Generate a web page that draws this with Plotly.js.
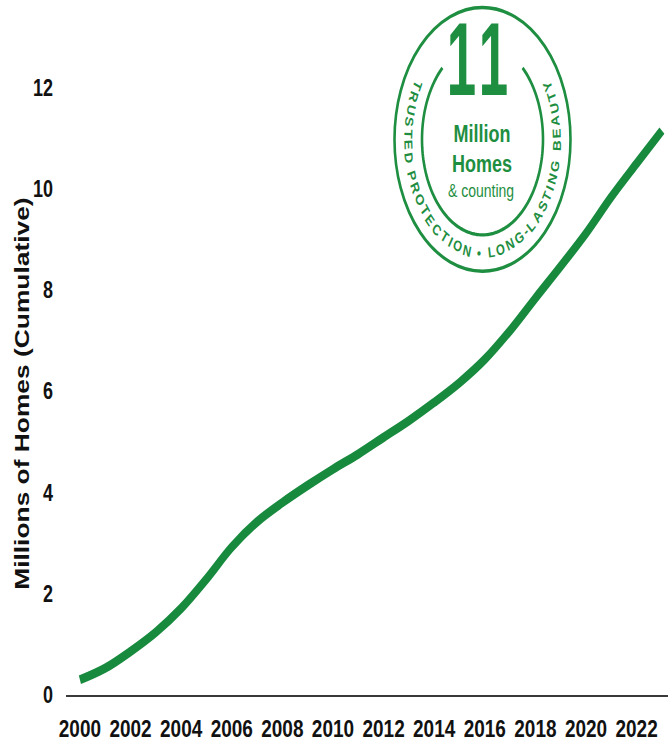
<!DOCTYPE html>
<html>
<head>
<meta charset="utf-8">
<script src="https://cdn.plot.ly/plotly-3.0.1.min.js"></script>
<style>
  html, body { margin: 0; padding: 0; background: #fff; overflow: hidden; }
  #wrap { width: 668px; height: 743px; overflow: hidden; }
  /* the chart is laid out at a shorter height and stretched tall */
  #chart { width: 668px; height: 572px; transform: scaleY(1.299); transform-origin: 0 0; }
</style>
</head>
<body>
<div id="wrap"><div id="chart"></div></div>
<script>
// Cumulative homes, millions, by year
const years = [2000, 2001, 2002, 2003, 2004, 2005, 2006, 2007, 2008, 2009, 2010, 2011,
               2012, 2013, 2014, 2015, 2016, 2017, 2018, 2019, 2020, 2021, 2022, 2023];
const homes = [0.30, 0.53, 0.86, 1.24, 1.71, 2.29, 2.92, 3.42, 3.80, 4.14, 4.46, 4.76,
               5.09, 5.42, 5.78, 6.17, 6.63, 7.20, 7.84, 8.47, 9.12, 9.84, 10.50, 11.15];

const xTickVals = [2000, 2002, 2004, 2006, 2008, 2010, 2012, 2014, 2016, 2018, 2020, 2022];
const yTickVals = [0, 2, 4, 6, 8, 10, 12];

const yTitle = 'Millions of Homes (Cumulative)';
const badgeBig = '11';
const badgeLines = 'Million<br>Homes';
const badgeSmall = '& counting';
const badgeTagline = 'TRUSTED PROTECTION \u2022 LONG-LASTING BEAUTY';

// ---- layout geometry (pixels of the unstretched chart) ----
const W = 668, H = 572;
const M = { l: 66, r: 0, t: 9, b: 37 };
const plotW = W - M.l - M.r, plotH = H - M.t - M.b;
const px = x => (x - M.l) / plotW;
const py = y => 1 - (y - M.t) / plotH;

const FONT = '"Liberation Sans", Arial, Helvetica, sans-serif';
const LINE_GREEN = '#178a3e';
const BADGE_GREEN = '#1e8e41';

const badge = {
  cx: 482.5, cy: 107.3,
  outerRx: 88, outerRy: 101.5,
  innerRx: 60.5, innerRy: 73.5, innerGapDeg: 41.5,
  textRx: 74.2, textRy: 87.5, textSpanDeg: 118, textSize: 11.5,
  bigSize: 80, bigSqueeze: 0.66, bigSpacing: 8.5
};

// t = 0 at the bottom of the ellipse, increasing towards the right side
function ellipsePt(t, rx, ry) {
  return { x: badge.cx + rx * Math.sin(t), y: badge.cy + ry * Math.cos(t) };
}

const shapes = [];
// outer ring
shapes.push({
  type: 'circle', xref: 'paper', yref: 'paper',
  x0: px(badge.cx - badge.outerRx), x1: px(badge.cx + badge.outerRx),
  y0: py(badge.cy + badge.outerRy), y1: py(badge.cy - badge.outerRy),
  line: { color: BADGE_GREEN, width: 2.6 }
});
// inner ring, open at the top
(function () {
  const lim = (180 - badge.innerGapDeg) * Math.PI / 180;
  const n = 160;
  let d = '';
  for (let i = 0; i <= n; i++) {
    const t = -lim + 2 * lim * i / n;
    const p = ellipsePt(t, badge.innerRx, badge.innerRy);
    d += (i === 0 ? 'M' : 'L') + px(p.x).toFixed(5) + ',' + py(p.y).toFixed(5) + ' ';
  }
  shapes.push({ type: 'path', xref: 'paper', yref: 'paper', path: d,
                line: { color: BADGE_GREEN, width: 2.6 } });
})();

const annotations = [];

// y-axis title
annotations.push({
  xref: 'paper', yref: 'paper', x: px(22), y: py(303),
  text: yTitle, textangle: -90, showarrow: false,
  xanchor: 'center', yanchor: 'middle',
  font: { family: FONT, size: 20.3, weight: 700, color: '#111' }
});

// badge centre text (index 1 is the big number, squeezed after drawing)
annotations.push(
  { xref: 'paper', yref: 'paper', x: px(480), y: py(46), text: badgeBig, showarrow: false,
    xanchor: 'center', yanchor: 'middle',
    font: { family: FONT, size: badge.bigSize, weight: 700, color: BADGE_GREEN } },
  { xref: 'paper', yref: 'paper', x: px(482.3), y: py(114.3), text: badgeLines, showarrow: false,
    xanchor: 'center', yanchor: 'middle',
    font: { family: FONT, size: 18, weight: 700, color: BADGE_GREEN } },
  { xref: 'paper', yref: 'paper', x: px(480.5), y: py(146.8), text: badgeSmall, showarrow: false,
    xanchor: 'center', yanchor: 'middle', font: { family: FONT, size: 14, color: BADGE_GREEN } }
);

// tagline set letter by letter around the ring
(function () {
  const rx = badge.textRx, ry = badge.textRy;
  const N = 3600;
  const ts = [], ss = [];
  let acc = 0, prev = null;
  for (let i = 0; i <= N; i++) {
    const t = -Math.PI + 2 * Math.PI * i / N;
    const p = ellipsePt(t, rx, ry);
    if (prev) acc += Math.hypot(p.x - prev.x, p.y - prev.y);
    ts.push(t); ss.push(acc); prev = p;
  }
  const sOf = t => {
    const f = (t + Math.PI) / (2 * Math.PI) * N;
    const i = Math.min(N - 1, Math.floor(f));
    return ss[i] + (ss[i + 1] - ss[i]) * (f - i);
  };
  const tOf = s => {
    let lo = 0, hi = N;
    while (hi - lo > 1) { const mid = (lo + hi) >> 1; if (ss[mid] < s) lo = mid; else hi = mid; }
    const f = (s - ss[lo]) / ((ss[hi] - ss[lo]) || 1);
    return ts[lo] + (ts[hi] - ts[lo]) * f;
  };
  const ctx = document.createElement('canvas').getContext('2d');
  ctx.font = '700 ' + badge.textSize + 'px ' + FONT;
  const chars = Array.from(badgeTagline);
  const w = chars.map(c => ctx.measureText(c).width);
  const span = badge.textSpanDeg * Math.PI / 180;
  const sStart = sOf(-span), sEnd = sOf(span);
  let natural = 0;
  for (let i = 0; i < chars.length - 1; i++) natural += (w[i] + w[i + 1]) / 2;
  const extra = (sEnd - sStart - natural) / (chars.length - 1);
  let s = sStart;
  chars.forEach((c, i) => {
    if (i > 0) s += (w[i - 1] + w[i]) / 2 + extra;
    if (c === ' ') return;
    const t = tOf(s);
    const p = ellipsePt(t, rx, ry);
    const ang = Math.atan2(-ry * Math.sin(t), rx * Math.cos(t)) * 180 / Math.PI;
    annotations.push({
      xref: 'paper', yref: 'paper', x: px(p.x), y: py(p.y), text: c,
      textangle: ang, showarrow: false, xanchor: 'center', yanchor: 'middle',
      font: { family: FONT, size: badge.textSize, weight: 700, color: BADGE_GREEN }
    });
  });
})();

const trace = {
  x: years, y: homes, type: 'scatter', mode: 'lines',
  line: { color: LINE_GREEN, width: 7, shape: 'spline', smoothing: 1 },
  cliponaxis: false, hoverinfo: 'skip'
};

const layout = {
  width: W, height: H, margin: M,
  paper_bgcolor: '#fff', plot_bgcolor: '#fff', showlegend: false,
  xaxis: {
    range: [1999.45, 2023.24],
    tickvals: xTickVals, ticktext: xTickVals.map(String),
    showgrid: false, zeroline: false,
    showline: true, linecolor: '#3a3a3a', linewidth: 1.6,
    ticks: '', ticklabelstandoff: 8,
    tickfont: { family: FONT, size: 19, weight: 700, color: '#111' }
  },
  yaxis: {
    range: [0, 13.5],
    tickvals: yTickVals, ticktext: yTickVals.map(String),
    showgrid: false, zeroline: false, showline: false,
    ticks: '', ticklabelstandoff: 12,
    tickfont: { family: FONT, size: 18, weight: 700, color: '#111' }
  },
  shapes: shapes,
  annotations: annotations
};

Plotly.newPlot('chart', [trace], layout, { displayModeBar: false, staticPlot: true }).then(gd => {
  // the big badge number is a condensed face: open it up a little, then squeeze it
  const big = gd.querySelectorAll('.annotation')[1];
  if (big) {
    const txt = big.querySelector('text.annotation-text');
    if (txt) {
      txt.style.letterSpacing = badge.bigSpacing + 'px';
      txt.style.transformBox = 'fill-box';
      txt.style.transformOrigin = '50% 50%';
      txt.style.transform = 'scaleX(' + badge.bigSqueeze + ')';
    }
  }
});
</script>
</body>
</html>
